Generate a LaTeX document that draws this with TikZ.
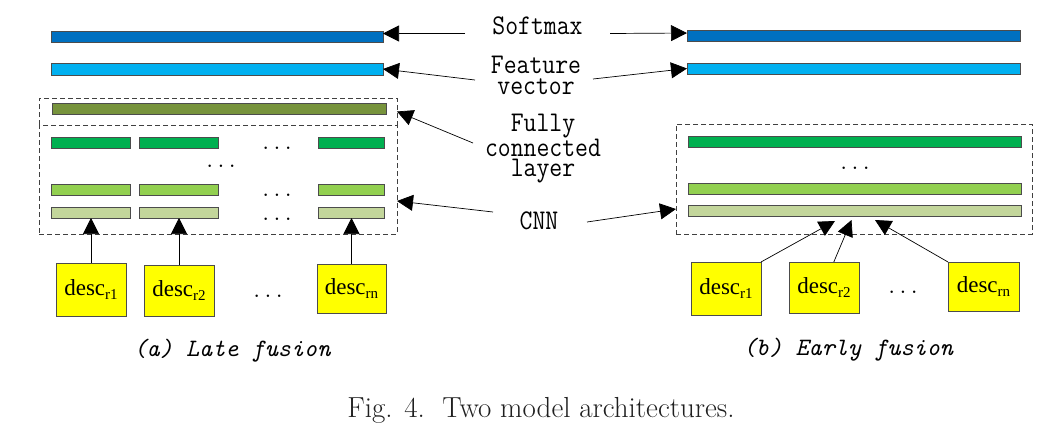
\documentclass[tikz,border=0pt]{standalone}
\usepackage{fontspec}
\newfontfamily\descfont{Liberation Serif}
\usetikzlibrary{arrows.meta,calc}
\definecolor{softc}{HTML}{0070C0}
\definecolor{featc}{HTML}{00B0F0}
\definecolor{fcc}{HTML}{77933C}
\definecolor{gone}{HTML}{00B050}
\definecolor{gtwo}{HTML}{92D050}
\definecolor{gthree}{HTML}{C3D69B}
\definecolor{descy}{HTML}{FFFF00}
\newcommand\mkbar[6]{\node[barbox,fill=#6,minimum width=#4pt,minimum height=#5pt] (#1) at (#2,#3) {};}
\newcommand\dlabel[1]{desc\raisebox{-4pt}{\fontsize{15}{15}\selectfont #1}}
\begin{document}
\begin{tikzpicture}[x=1pt,y=-1pt,
  barbox/.style={draw=black!70, line width=0.7pt, inner sep=0pt, outer sep=0pt, anchor=north west},
  dashline/.style={draw=black!75, dash pattern=on 5pt off 3pt, line width=0.8pt},
  dbox/.style={dashline, inner sep=0pt, outer sep=0pt, anchor=north west},
  hbox/.style={inner sep=0pt, outer sep=0pt, anchor=north west},
  descbox/.style={draw=black!70, fill=descy, line width=0.8pt, inner sep=0pt, outer sep=0pt, anchor=north west, font=\fontsize{23}{23}\selectfont\descfont},
  arr/.style={-{Triangle[length=16pt,width=16pt]}, line width=0.7pt, black},
  lbl/.style={font=\fontsize{25}{17.8}\selectfont\ttfamily, align=center, inner sep=0pt, anchor=base, yscale=1.14, transform shape},
  dotsn/.style={font=\fontsize{22}{22}\selectfont\ttfamily, inner sep=0pt, anchor=base},
  capn/.style={font=\fontsize{25}{25}\selectfont\ttfamily\itshape, inner sep=0pt, anchor=base}
]
\useasboundingbox (0,0) rectangle (1053,432);

% ---------- left panel ----------
\mkbar{Ls}{51}{31}{332}{11}{softc}
\mkbar{Lf}{51}{63}{332}{12}{featc}
\node[hbox, minimum width=358pt, minimum height=27pt] (Lfcbox) at (39,98) {};
\draw[dashline] (Lfcbox.south west) |- (Lfcbox.north east) -- (Lfcbox.south east);
\node[dbox, minimum width=358pt, minimum height=109pt] (Lcnnbox) at (39,125) {};
\mkbar{Lfc}{52}{103}{334}{11}{fcc}
\mkbar{Lr1a}{51}{137}{79}{11}{gone}
\mkbar{Lr1b}{139}{137}{79}{11}{gone}
\mkbar{Lr1c}{318}{137}{66}{11}{gone}
\mkbar{Lr2a}{51}{184}{79}{11}{gtwo}
\mkbar{Lr2b}{139}{184}{79}{11}{gtwo}
\mkbar{Lr2c}{318}{184}{66}{11}{gtwo}
\mkbar{Lr3a}{51}{207}{79}{11}{gthree}
\mkbar{Lr3b}{139}{207}{79}{11}{gthree}
\mkbar{Lr3c}{318}{207}{66}{11}{gthree}
\node[dotsn] (Ldot1) at (277,149) {...};
\node[dotsn] (Ldotm) at (221,167) {...};
\node[dotsn] (Ldot2) at (277,196) {...};
\node[dotsn] (Ldot3) at (277,220) {...};

\node[descbox, minimum width=70pt, minimum height=53pt] (Ld1) at (56,263) {\dlabel{r1}};
\node[descbox, minimum width=70pt, minimum height=51pt] (Ld2) at (144,265) {\dlabel{r2}};
\node[descbox, minimum width=69pt, minimum height=49pt] (Ld3) at (317,264) {\dlabel{rn}};
\node[dotsn] (Ldotd) at (268,297) {...};

\draw[arr] (Ld1.north) -- (Ld1.north |- Lr3a.south);
\draw[arr] (Ld2.north) -- (Ld2.north |- Lr3b.south);
\draw[arr] (Ld3.north) -- (Ld3.north |- Lr3c.south);

\node[capn] (capa) at (232,356) {(a) Late fusion};

% ---------- right panel ----------
\mkbar{Rs}{687}{30.5}{333}{11}{softc}
\mkbar{Rf}{687}{63}{333}{11}{featc}
\node[dbox, minimum width=356pt, minimum height=110pt] (Rcnnbox) at (676,124) {};
\mkbar{Rr1}{688}{136}{333}{11}{gone}
\mkbar{Rr2}{688}{183}{333}{11}{gtwo}
\mkbar{Rr3}{688}{205.5}{333}{11}{gthree}
\node[dotsn] (Rdotm) at (855,169) {...};

\node[descbox, minimum width=70pt, minimum height=53pt] (Rd1) at (691,262) {\dlabel{r1}};
\node[descbox, minimum width=70pt, minimum height=51pt] (Rd2) at (789,262) {\dlabel{r2}};
\node[descbox, minimum width=71pt, minimum height=49pt] (Rd3) at (948,262) {\dlabel{rn}};
\node[dotsn] (Rdotd) at (903,293) {...};

\coordinate (Rt1) at ($(Rr3.south)+(-19.5,4.5)$);
\coordinate (Rt2) at ($(Rr3.south)+(-3,3.5)$);
\coordinate (Rt3) at ($(Rr3.south)+(20.5,3.5)$);
\draw[arr] (Rd1.north east) -- (Rt1);
\draw[arr] ($(Rd2.north west)!0.64!(Rd2.north east)$) -- (Rt2);
\draw[arr] (Rd3.north west) -- (Rt3);

\node[capn] (capb) at (848,355) {(b) Early fusion};

% ---------- middle labels ----------
\node[lbl] (softmax) at (537.5,34.5) {Softmax};
\node[lbl] (feat) at (536,94) {Feature\\vector};
\node[lbl] (fcl) at (543,176.5) {Fully\\connected\\layer};
\node[lbl] (cnn) at (539,229.5) {CNN};

\coordinate (sL) at (465,33.5);
\coordinate (sR) at (610,33.5);
\coordinate (fL) at (475,80);
\coordinate (fR) at (593,79);
\coordinate (fcS) at (473,143);
\coordinate (cL) at (493,212);
\coordinate (cR) at (587,222);
\draw[arr] (sL) -- ($(Ls.east)+(0,-3)$);
\draw[arr] (sR) -- ($(Rs.west)+(0,-3)$);
\draw[arr] (fL) -- (Lf.east);
\draw[arr] (fR) -- (Rf.west);
\draw[arr] (fcS) -- (Lfcbox.east);
\draw[arr] (cL) -- ($(Lcnnbox.north east)+(0,76)$);
\draw[arr] (cR) -- ($(Rcnnbox.north west)+(0,85)$);

% ---------- figure caption ----------
\node[font=\fontsize{29}{29}\selectfont, inner sep=0pt, anchor=base, text=black!88] (fig) at (541,417) {Fig. 4.\ \ Two model architectures.};
\end{tikzpicture}
\end{document}
